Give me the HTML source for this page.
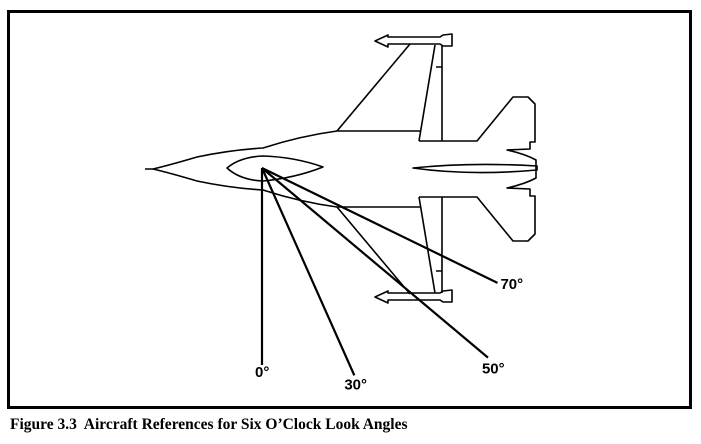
<!DOCTYPE html>
<html><head><meta charset="utf-8"><style>
html,body{margin:0;padding:0;background:#fff;width:701px;height:444px;overflow:hidden}
svg{display:block}
text{font-family:"Liberation Sans",Arial,sans-serif;font-weight:bold;font-size:15px}
</style></head><body>
<svg width="701" height="444" viewBox="0 0 701 444">
<rect x="8.5" y="11.5" width="682" height="396" fill="none" stroke="#000" stroke-width="3"/>
<g fill="none" stroke="#000" stroke-width="1.6" stroke-linejoin="round">
<path d="M145,169 L153,169 Q170,165 197,157 Q230,150 263,148 Q300,136 337,131 L420,131"/>
<path d="M153,169 Q170,173 197,181 Q230,188 263,190 Q300,202 337,207 L420,207"/>
<path d="M227,168 Q240,157 263,156 Q295,157 323,167 Q295,178 263,181 Q240,180 227,168 Z"/>
<path d="M337,131 L410,44 M419,141 L435,45 M442,45 L442,141 M436,67 L442,67"/>
<path d="M337,207 L410,294 M419,197 L435,293 M442,293 L442,197 M436,271 L442,271"/>
<path d="M419,141 L477,141 L513,97 L528,97 L535,104 L535,142 L530,142 L530,149 L507,150 Q525,154 536,160 L536,178 Q525,184 507,188 L530,189 L530,196 L535,196 L535,234 L528,241 L513,241 L477,197 L419,197"/>
<path d="M413,168 Q470,162 537,166 L537,170 Q470,176 413,168 Z"/>
<path d="M375,41 L388,35 L388,37 L440,37 L443,35 L452,34 L452,46 L443,46 L440,44 L388,44 L388,47 Z"/>
<path d="M375,297 L388,291 L388,293 L440,293 L443,291 L452,290 L452,302 L443,302 L440,300 L388,300 L388,303 Z"/>
</g>
<g id="angles"></g>
<text x="10" y="429" xml:space="preserve" style="font-family:'Liberation Serif',serif;font-size:15.5px;white-space:pre">Figure 3.3  Aircraft References for Six O’Clock Look Angles</text>
</svg>
<script>
const angleLabels = ["0°","30°","50°","70°"];
const screenAngles = [0, 24, 50, 64];
const lineLengths = [197, 227, 295, 262];
const ox = 262, oy = 168;
const g = document.getElementById('angles');
const NS = 'http://www.w3.org/2000/svg';
const labelOffsets = [[-7,12],[-10,14],[-6,16],[3,6]];
for (let i = 0; i < angleLabels.length; i++) {
  const a = screenAngles[i] * Math.PI / 180;
  const x2 = ox + lineLengths[i] * Math.sin(a);
  const y2 = oy + lineLengths[i] * Math.cos(a);
  const ln = document.createElementNS(NS, 'line');
  ln.setAttribute('x1', ox); ln.setAttribute('y1', oy);
  ln.setAttribute('x2', x2); ln.setAttribute('y2', y2);
  ln.setAttribute('stroke', '#000'); ln.setAttribute('stroke-width', '2.2');
  
  
  g.appendChild(ln);
  const t = document.createElementNS(NS, 'text');
  t.setAttribute('x', x2 + labelOffsets[i][0]);
  t.setAttribute('y', y2 + labelOffsets[i][1]);
  t.textContent = angleLabels[i];
  
  
  g.appendChild(t);
}
</script>
</body></html>
